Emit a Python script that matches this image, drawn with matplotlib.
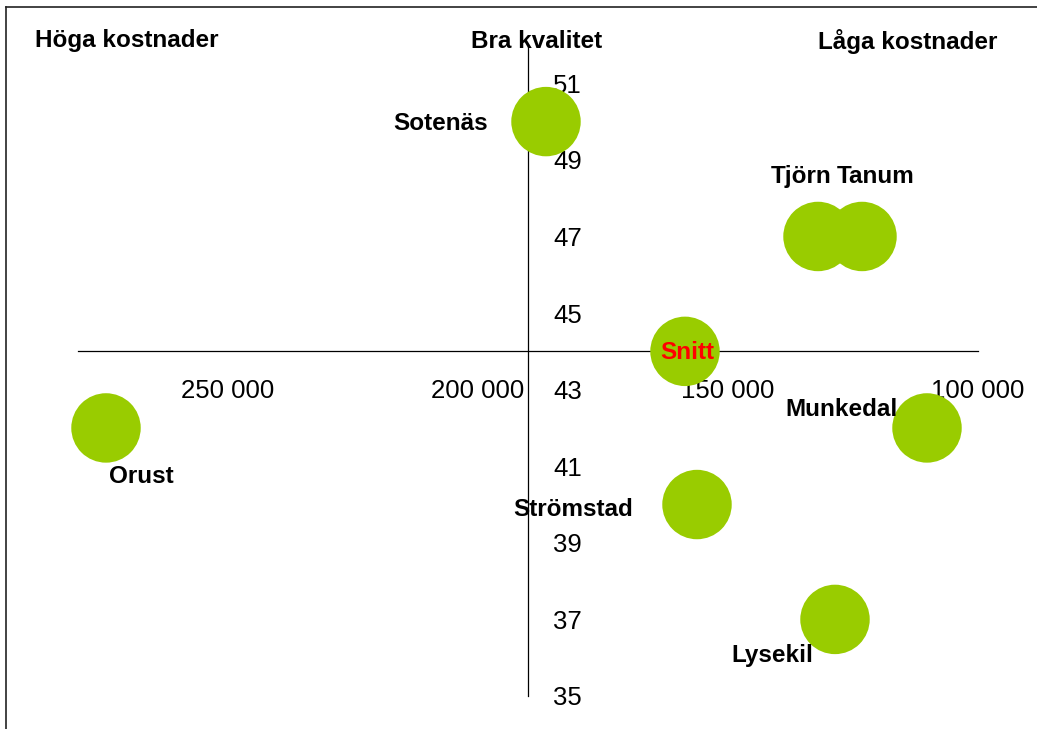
import matplotlib
matplotlib.use("Agg")
import matplotlib.pyplot as plt
from matplotlib.lines import Line2D
from matplotlib.ticker import FuncFormatter

plt.rcParams['font.family'] = ['Liberation Sans', 'DejaVu Sans']

# ---- data ----
names = ["Sotenäs", "Tjörn", "Tanum", "Snitt", "Munkedal", "Orust", "Strömstad", "Lysekil"]
kostnad = [186400, 132000, 123200, 158600, 110200, 274400, 156200, 128600]
kvalitet = [50, 47, 47, 44, 42, 42, 40, 37]
x_ticks = [250000, 200000, 150000, 100000]
y_ticks = [35, 37, 39, 41, 43, 45, 47, 49, 51]
corner_labels = ["Höga kostnader", "Bra kvalitet", "Låga kostnader"]

# ---- layout (label offsets in pixels relative to bubble centre) ----
label_layout = {
    "Sotenäs":   (-58, -2, "right"),
    "Tjörn":     (13, 60, "right"),
    "Tanum":     (-25, 60, "left"),
    "Snitt":     (2, -1, "center"),
    "Munkedal":  (-29, 18, "right"),
    "Orust":     (3, -49, "left"),
    "Strömstad": (-64, -5, "right"),
    "Lysekil":   (-22, -36, "right"),
}

W, H = 1037, 729
fig = plt.figure(figsize=(W / 100, H / 100), dpi=100)
ax = fig.add_axes([78 / W, (H - 696) / H, 900 / W, (696 - 45) / H])

ax.set_xlim(280000, 100000)
ax.set_ylim(35, 52)

green = "#99CC00"
ax.scatter(kostnad, kvalitet, s=2500, color=green, edgecolors="none", zorder=3, clip_on=False)

for n, xv, yv in zip(names, kostnad, kvalitet):
    dx, dy, ha = label_layout[n]
    col = "#FF0000" if n == "Snitt" else "black"
    ax.annotate(n, (xv, yv), xytext=(dx * 0.72, dy * 0.72), textcoords="offset points",
                ha=ha, va="center", fontsize=17.5, fontweight="bold", color=col, zorder=4)

# axes crossing
for s in ["top", "left"]:
    ax.spines[s].set_visible(False)
ax.spines["right"].set_position(("data", 190000))
ax.spines["bottom"].set_position(("data", 44))
for s in ["right", "bottom"]:
    ax.spines[s].set_linewidth(0.9)
    ax.spines[s].set_zorder(1)
ax.yaxis.tick_right()
ax.set_xticks(x_ticks)
ax.set_yticks(y_ticks)
ax.xaxis.set_major_formatter(FuncFormatter(lambda v, p: f"{int(v):,}".replace(",", " ")))
ax.tick_params(axis="x", length=0, pad=20, labelsize=18.5)
ax.tick_params(axis="y", length=0, pad=18, labelsize=18.5)
for lab in ax.get_yticklabels():
    lab.set_horizontalalignment("left")
ax.set_facecolor("none")

# corner titles
fig.text(35 / W, 1 - 41 / H, corner_labels[0], ha="left", va="center", fontsize=17.5, fontweight="bold")
fig.text(537 / W, 1 - 41 / H, corner_labels[1], ha="center", va="center", fontsize=17.5, fontweight="bold")
fig.text(997 / W, 1 - 41 / H, corner_labels[2], ha="right", va="center", fontsize=17.5, fontweight="bold")

# outer frame (partially visible)
fig.add_artist(Line2D([6 / W, 6 / W], [0, 1 - 7 / H], color="#222222", lw=1.2, transform=fig.transFigure))
fig.add_artist(Line2D([6 / W, 1], [1 - 7 / H, 1 - 7 / H], color="#222222", lw=1.2, transform=fig.transFigure))

fig.savefig("out.png", dpi=100, facecolor="white")
